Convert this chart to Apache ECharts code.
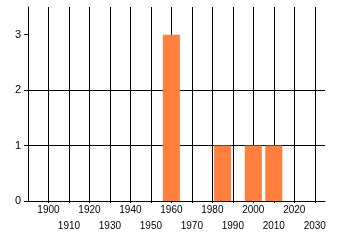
<!DOCTYPE html>
<html>
<head>
<meta charset="utf-8">
<script src="https://cdn.jsdelivr.net/npm/echarts@6/dist/echarts.min.js"></script>
<style>html,body{margin:0;padding:0;background:#fff;}#c{width:340px;height:245px;}</style>
</head>
<body>
<div id="c"></div>
<script>
const years = [1960, 1985, 2000, 2010];
const counts = [3, 1, 1, 1];
const xTickValues = [1900, 1910, 1920, 1930, 1940, 1950, 1960, 1970, 1980, 1990, 2000, 2010, 2020, 2030];
const xUpperLabels = [1900, 1920, 1940, 1960, 1980, 2000, 2020];
const xLowerLabels = [1910, 1930, 1950, 1970, 1990, 2010, 2030];
const yTickValues = [0, 1, 2, 3];

const chart = echarts.init(document.getElementById('c'), null, {renderer: 'canvas'});
const font = 'Liberation Sans';
const labelBase = {color: '#000', fontFamily: font, fontSize: 10, showMinLabel: true, showMaxLabel: true,
  formatter: function (v) { return String(v); }};
chart.setOption({
  animation: false,
  grid: {left: 28, right: 15, top: 7, bottom: 44, containLabel: false},
  xAxis: [{
    type: 'value', min: 1890, max: 2035, interval: 10, position: 'bottom',
    axisLine: {show: true, lineStyle: {color: '#000', width: 1}},
    axisTick: {show: true, length: 2, customValues: xTickValues, lineStyle: {color: '#000'}},
    splitLine: {show: true, showMinLine: true, showMaxLine: true, lineStyle: {color: '#000', width: 1}},
    axisLabel: Object.assign({customValues: xUpperLabels, margin: 4}, labelBase)
  }, {
    type: 'value', min: 1890, max: 2035, interval: 10, position: 'bottom', offset: 0,
    axisLine: {show: false},
    axisTick: {show: false},
    splitLine: {show: false},
    axisLabel: Object.assign({customValues: xLowerLabels, margin: 20}, labelBase)
  }],
  yAxis: {
    type: 'value', min: 0, max: 3.5, interval: 1,
    axisLine: {show: true, lineStyle: {color: '#000', width: 1}},
    axisTick: {show: true, length: 4, customValues: yTickValues, lineStyle: {color: '#000'}},
    splitLine: {show: true, showMaxLine: false, lineStyle: {color: '#000', width: 1}},
    axisLabel: {customValues: yTickValues, margin: 7, color: '#000', fontFamily: font, fontSize: 11}
  },
  series: [{
    type: 'bar',
    xAxisIndex: 0,
    barWidth: 17,
    itemStyle: {color: '#ff7f3f'},
    data: years.map((y, i) => [y, counts[i]])
  }]
});
</script>
</body>
</html>
